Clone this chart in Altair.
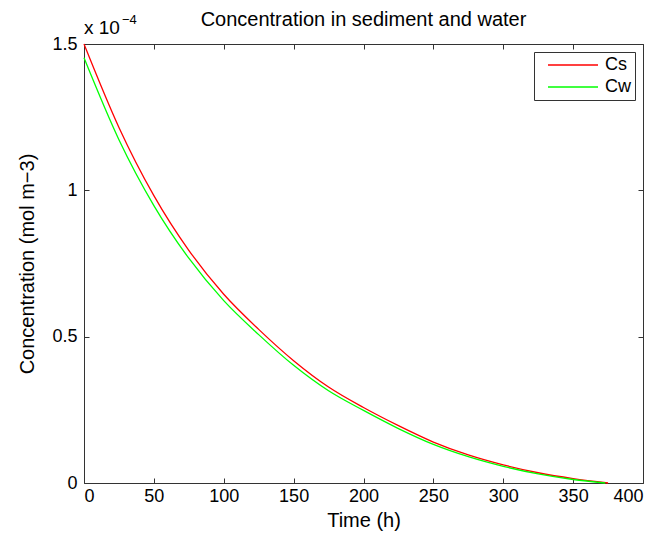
import altair as alt
import pandas as pd

# Time (h) sample points and read concentrations (mol m-3)
time_cs = [0, 25, 50, 75, 100, 125, 150, 175, 200, 225, 250, 275, 300, 325, 350, 375]
cs = [1.500e-4, 1.215e-4, 0.982e-4, 0.795e-4, 0.645e-4, 0.525e-4, 0.418e-4, 0.328e-4,
      0.258e-4, 0.196e-4, 0.140e-4, 0.096e-4, 0.062e-4, 0.035e-4, 0.015e-4, 0.0]
time_cw = [0, 25, 50, 75, 100, 125, 150, 175, 200, 225, 250, 275, 300, 325, 350, 373]
cw = [1.453e-4, 1.173e-4, 0.948e-4, 0.768e-4, 0.623e-4, 0.507e-4, 0.402e-4, 0.315e-4,
      0.248e-4, 0.186e-4, 0.132e-4, 0.090e-4, 0.057e-4, 0.031e-4, 0.012e-4, 0.0]

series_names = ["Cs", "Cw"]
series_colors = ["#ff0000", "#00ff00"]
x_ticks = [0, 50, 100, 150, 200, 250, 300, 350, 400]
y_ticks = [0, 0.5e-4, 1.0e-4, 1.5e-4]
title_text = "Concentration in sediment and water"

df = pd.concat([
    pd.DataFrame({"t": time_cs, "c": cs, "series": series_names[0]}),
    pd.DataFrame({"t": time_cw, "c": cw, "series": series_names[1]}),
])

FONT = "Liberation Sans"
AX = "#333333"
W, H = 559, 439

xscale = alt.Scale(domain=[0, 400], nice=False, zero=False)
yscale = alt.Scale(domain=[0, 1.5e-4], nice=False, zero=False)

common_axis = dict(grid=False, domain=False, tickColor=AX, tickSize=5, offset=-5,
                   labelFont=FONT, labelFontSize=18, labelColor="black",
                   titleFont=FONT, titleFontSize=20, titleColor="black", titleFontWeight="normal")

lines = alt.Chart(df).mark_line(interpolate="monotone", strokeWidth=1.3).encode(
    x=alt.X("t:Q", scale=xscale,
            axis=alt.Axis(orient="bottom", values=x_ticks, title="Time (h)",
                          labelPadding=4, titlePadding=5, **common_axis)),
    y=alt.Y("c:Q", scale=yscale,
            axis=alt.Axis(orient="left", values=y_ticks, title="Concentration (mol m\u22123)",
                          labelExpr="format(datum.value * 10000, '~g')",
                          labelPadding=7, titlePadding=14, **common_axis)),
    color=alt.Color("series:N",
                    scale=alt.Scale(domain=series_names, range=series_colors),
                    legend=alt.Legend(title=None, orient="none", legendX=450, legendY=8,
                                      symbolType="M0.2,0H10.2", symbolSize=100,
                                      symbolStrokeWidth=1.3, labelFont=FONT,
                                      labelFontSize=18, labelColor="black",
                                      labelOffset=49, padding=4, rowPadding=4,
                                      strokeColor=AX, fillColor="white")),
)

frame = alt.Chart(df).mark_line(opacity=0).encode(
    x=alt.X("t:Q", scale=xscale,
            axis=alt.Axis(orient="top", values=x_ticks, labels=False, title=None, **common_axis)),
    y=alt.Y("c:Q", scale=yscale,
            axis=alt.Axis(orient="right", values=y_ticks, labels=False, title=None, **common_axis)),
)

title = alt.Chart(pd.DataFrame({"txt": [title_text]})).mark_text(
    font=FONT, fontSize=20, align="center", baseline="middle", color="black"
).encode(text="txt:N", x=alt.value(W / 2), y=alt.value(-24))

exp_base = alt.Chart(pd.DataFrame({"txt": ["x 10"]})).mark_text(
    font=FONT, fontSize=19, align="left", baseline="alphabetic", color="black"
).encode(text="txt:N", x=alt.value(0), y=alt.value(-10))

exp_sup = alt.Chart(pd.DataFrame({"txt": ["\u22124"]})).mark_text(
    font=FONT, fontSize=13, align="left", baseline="alphabetic", color="black"
).encode(text="txt:N", x=alt.value(38), y=alt.value(-20))

chart = alt.layer(lines, frame, title, exp_base, exp_sup).resolve_scale(
    x="independent", y="independent"
).properties(
    width=W, height=H,
    autosize=alt.AutoSizeParams(type="none"),
    padding={"left": 76, "top": 36, "right": 14, "bottom": 50},
).configure_view(stroke=AX, strokeWidth=1)

chart.save("out.html", embed_options={"renderer": "svg", "actions": False})
